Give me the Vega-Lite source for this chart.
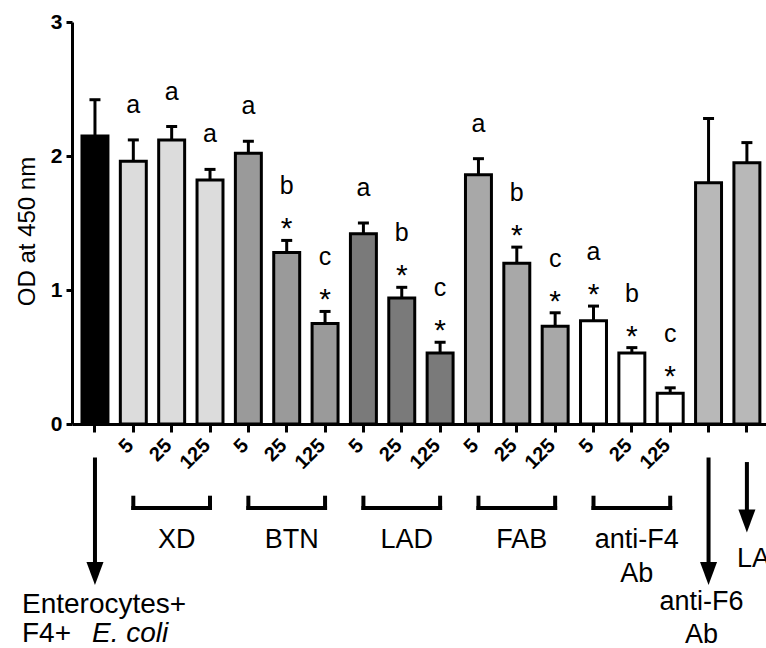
{
  "$schema": "https://vega.github.io/schema/vega-lite/v6.json",
  "autosize": {"type": "none"},
  "width": 694,
  "height": 402,
  "padding": {"left": 72, "top": 22, "right": 0, "bottom": 224},
  "background": "white",
  "config": {
    "view": {"stroke": null},
    "font": "Liberation Sans",
    "axis": {"grid": false}
  },
  "data": {
    "values": [
      {"id": "Control", "od": 2.15, "err": 2.42, "pattern": "solid", "sig": "", "star": false},
      {"id": "XD|5", "od": 1.96, "err": 2.12, "pattern": "XD", "sig": "a", "star": false},
      {"id": "XD|25", "od": 2.12, "err": 2.22, "pattern": "XD", "sig": "a", "star": false},
      {"id": "XD|125", "od": 1.82, "err": 1.9, "pattern": "XD", "sig": "a", "star": false},
      {"id": "BTN|5", "od": 2.02, "err": 2.11, "pattern": "BTN", "sig": "a", "star": false},
      {"id": "BTN|25", "od": 1.28, "err": 1.37, "pattern": "BTN", "sig": "b", "star": true},
      {"id": "BTN|125", "od": 0.75, "err": 0.84, "pattern": "BTN", "sig": "c", "star": true},
      {"id": "LAD|5", "od": 1.42, "err": 1.5, "pattern": "LAD", "sig": "a", "star": false},
      {"id": "LAD|25", "od": 0.94, "err": 1.02, "pattern": "LAD", "sig": "b", "star": true},
      {"id": "LAD|125", "od": 0.53, "err": 0.61, "pattern": "LAD", "sig": "c", "star": true},
      {"id": "FAB|5", "od": 1.86, "err": 1.98, "pattern": "FAB", "sig": "a", "star": false},
      {"id": "FAB|25", "od": 1.2, "err": 1.32, "pattern": "FAB", "sig": "b", "star": true},
      {"id": "FAB|125", "od": 0.73, "err": 0.83, "pattern": "FAB", "sig": "c", "star": true},
      {"id": "anti-F4 Ab|5", "od": 0.77, "err": 0.88, "pattern": "open", "sig": "a", "star": true},
      {"id": "anti-F4 Ab|25", "od": 0.53, "err": 0.57, "pattern": "open", "sig": "b", "star": true},
      {"id": "anti-F4 Ab|125", "od": 0.23, "err": 0.27, "pattern": "open", "sig": "c", "star": true},
      {"id": "anti-F6 Ab", "od": 1.8, "err": 2.28, "pattern": "hatch", "sig": "", "star": false},
      {"id": "LAD", "od": 1.95, "err": 2.1, "pattern": "hatch", "sig": "", "star": false}
    ]
  },
  "layer": [
    {
      "mark": {"type": "bar", "stroke": "black", "strokeWidth": 3, "opacity": 1},
      "encoding": {
        "x": {
          "field": "id", "type": "nominal", "sort": null,
          "scale": {
            "domain": ["Control", "XD|5", "XD|25", "XD|125", "BTN|5", "BTN|25", "BTN|125", "LAD|5", "LAD|25", "LAD|125", "FAB|5", "FAB|25", "FAB|125", "anti-F4 Ab|5", "anti-F4 Ab|25", "anti-F4 Ab|125", "anti-F6 Ab", "LAD"],
            "paddingInner": 0.323, "paddingOuter": 0.21, "align": 0.62, "round": false
          },
          "axis": {
            "title": null,
            "labelExpr": "indexof(datum.value, '|') > 0 ? slice(datum.value, indexof(datum.value, '|') + 1) : ''",
            "labelAngle": -45, "labelAlign": "right", "labelBaseline": "middle",
            "labelFontSize": 20, "labelFontWeight": "bold", "labelColor": "black",
            "labelPadding": 10, "labelOffset": -3, "labelOverlap": false, "labelBound": false,
            "tickSize": 8, "tickWidth": 3, "tickColor": "black",
            "domainWidth": 3, "domainColor": "black"
          }
        },
        "y": {
          "field": "od", "type": "quantitative",
          "scale": {"domain": [0, 3], "nice": false},
          "axis": {
            "title": "OD at 450 nm", "values": [0, 1, 2, 3], "format": "d",
            "tickSize": 6, "tickWidth": 3, "tickColor": "black",
            "domainWidth": 3, "domainColor": "black",
            "labelFontSize": 21, "labelFontWeight": "bold", "labelColor": "black", "labelPadding": 4,
            "titleFontSize": 24, "titleFontWeight": "normal", "titleColor": "black", "titlePadding": 11,
            "titleY": 209
          }
        },
        "fill": {
          "field": "pattern", "type": "nominal",
          "scale": {
            "domain": ["solid", "XD", "BTN", "LAD", "FAB", "open", "hatch"],
            "range": ["#000000", "#dcdcdc", "#9a9a9a", "#7a7a7a", "#a8a8a8", "#ffffff", "#b8b8b8"]
          },
          "legend": null
        }
      }
    },
    {
      "mark": {"type": "rule", "strokeWidth": 3, "color": "black"},
      "encoding": {
        "x": {"field": "id", "type": "nominal"},
        "y": {"field": "od", "type": "quantitative"},
        "y2": {"field": "err"}
      }
    },
    {
      "mark": {"type": "tick", "thickness": 3, "size": 11, "color": "black", "opacity": 1},
      "encoding": {
        "x": {"field": "id", "type": "nominal"},
        "y": {"field": "err", "type": "quantitative"}
      }
    },
    {
      "transform": [{"filter": "datum.star"}],
      "mark": {"type": "text", "fontSize": 30, "baseline": "alphabetic", "dy": -2, "color": "black"},
      "encoding": {
        "x": {"field": "id", "type": "nominal"},
        "y": {"field": "err", "type": "quantitative"},
        "text": {"value": "*"}
      }
    },
    {
      "transform": [{"filter": "datum.star"}],
      "mark": {"type": "text", "fontSize": 25, "baseline": "alphabetic", "dy": -46, "color": "black"},
      "encoding": {
        "x": {"field": "id", "type": "nominal"},
        "y": {"field": "err", "type": "quantitative"},
        "text": {"field": "sig"}
      }
    },
    {
      "transform": [{"filter": "datum.sig != '' && !datum.star"}],
      "mark": {"type": "text", "fontSize": 25, "baseline": "alphabetic", "dy": -27, "color": "black"},
      "encoding": {
        "x": {"field": "id", "type": "nominal"},
        "y": {"field": "err", "type": "quantitative"},
        "text": {"field": "sig"}
      }
    },
    {
      "data": {"name": "brackets", "values": [
        {"a": "XD|5", "m": "XD|25", "b": "XD|125", "label": "XD"},
        {"a": "BTN|5", "m": "BTN|25", "b": "BTN|125", "label": "BTN"},
        {"a": "LAD|5", "m": "LAD|25", "b": "LAD|125", "label": "LAD"},
        {"a": "FAB|5", "m": "FAB|25", "b": "FAB|125", "label": "FAB"},
        {"a": "anti-F4 Ab|5", "m": "anti-F4 Ab|25", "b": "anti-F4 Ab|125", "label": "anti-F4\nAb"}
      ]},
      "layer": [
        {
          "mark": {"type": "rule", "strokeWidth": 4, "color": "black", "strokeCap": "square"},
          "encoding": {
            "x": {"field": "a", "type": "nominal"},
            "x2": {"field": "b"},
            "y": {"datum": -0.627, "type": "quantitative"}
          }
        },
        {
          "mark": {"type": "rule", "strokeWidth": 4, "color": "black", "strokeCap": "square"},
          "encoding": {
            "x": {"field": "a", "type": "nominal"},
            "y": {"datum": -0.55, "type": "quantitative"},
            "y2": {"datum": -0.627}
          }
        },
        {
          "mark": {"type": "rule", "strokeWidth": 4, "color": "black", "strokeCap": "square"},
          "encoding": {
            "x": {"field": "b", "type": "nominal"},
            "y": {"datum": -0.55, "type": "quantitative"},
            "y2": {"datum": -0.627}
          }
        },
        {
          "mark": {"type": "text", "fontSize": 27, "baseline": "alphabetic", "align": "center", "dx": 5, "lineBreak": "\n", "lineHeight": 34, "color": "black"},
          "encoding": {
            "x": {"field": "m", "type": "nominal"},
            "y": {"datum": -0.925, "type": "quantitative"},
            "text": {"field": "label"}
          }
        }
      ]
    },
    {
      "data": {"values": [{"id": "Control"}, {"id": "anti-F6 Ab"}]},
      "layer": [
        {
          "mark": {"type": "rule", "strokeWidth": 4, "color": "black"},
          "encoding": {
            "x": {"field": "id", "type": "nominal"},
            "y": {"datum": -0.25, "type": "quantitative"},
            "y2": {"datum": -1.05}
          }
        },
        {
          "mark": {"type": "point", "shape": "M-0.74,-1L0.74,-1L0,1Z", "size": 529, "filled": true, "color": "black", "opacity": 1},
          "encoding": {
            "x": {"field": "id", "type": "nominal"},
            "y": {"datum": -1.116, "type": "quantitative"}
          }
        }
      ]
    },
    {
      "data": {"values": [{"id": "LAD"}]},
      "layer": [
        {
          "mark": {"type": "rule", "strokeWidth": 4, "color": "black"},
          "encoding": {
            "x": {"field": "id", "type": "nominal"},
            "y": {"datum": -0.284, "type": "quantitative"},
            "y2": {"datum": -0.66}
          }
        },
        {
          "mark": {"type": "point", "shape": "M-0.74,-1L0.74,-1L0,1Z", "size": 529, "filled": true, "color": "black", "opacity": 1},
          "encoding": {
            "x": {"field": "id", "type": "nominal"},
            "y": {"datum": -0.724, "type": "quantitative"}
          }
        },
        {
          "mark": {"type": "text", "fontSize": 27, "baseline": "alphabetic", "align": "left", "dx": -10, "color": "black"},
          "encoding": {
            "x": {"field": "id", "type": "nominal"},
            "y": {"datum": -1.067, "type": "quantitative"},
            "text": {"value": "LAD"}
          }
        }
      ]
    },
    {
      "data": {"values": [{"id": "Control"}]},
      "layer": [
        {
          "mark": {"type": "text", "fontSize": 28, "baseline": "alphabetic", "align": "left", "dx": -73, "color": "black"},
          "encoding": {
            "x": {"field": "id", "type": "nominal"},
            "y": {"datum": -1.41, "type": "quantitative"},
            "text": {"value": "Enterocytes+"}
          }
        },
        {
          "mark": {"type": "text", "fontSize": 28, "baseline": "alphabetic", "align": "left", "dx": -73, "color": "black"},
          "encoding": {
            "x": {"field": "id", "type": "nominal"},
            "y": {"datum": -1.627, "type": "quantitative"},
            "text": {"value": "F4+"}
          }
        },
        {
          "mark": {"type": "text", "fontSize": 28, "fontStyle": "italic", "baseline": "alphabetic", "align": "left", "dx": -3, "color": "black"},
          "encoding": {
            "x": {"field": "id", "type": "nominal"},
            "y": {"datum": -1.627, "type": "quantitative"},
            "text": {"value": "E. coli"}
          }
        }
      ]
    },
    {
      "data": {"values": [{"id": "anti-F6 Ab"}]},
      "mark": {"type": "text", "fontSize": 27, "baseline": "alphabetic", "align": "center", "dx": -7, "lineBreak": "\n", "lineHeight": 33, "color": "black"},
      "encoding": {
        "x": {"field": "id", "type": "nominal"},
        "y": {"datum": -1.39, "type": "quantitative"},
        "text": {"value": "anti-F6\nAb"}
      }
    }
  ]
}
